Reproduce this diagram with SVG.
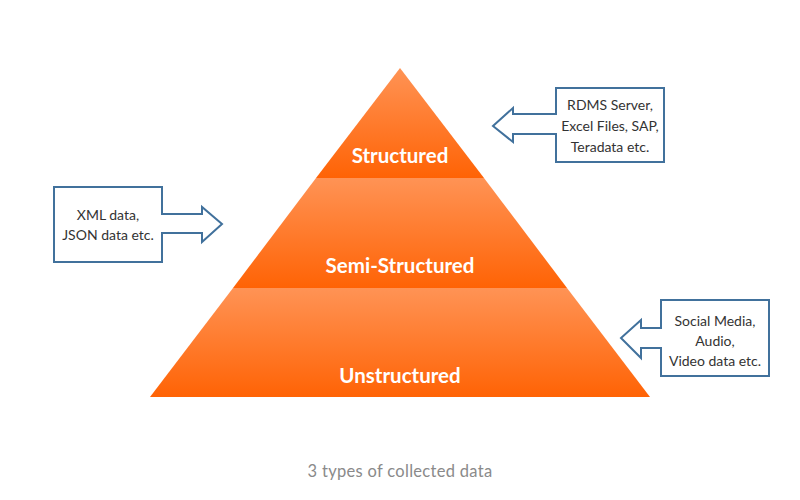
<svg xmlns="http://www.w3.org/2000/svg" width="800" height="500" viewBox="0 0 800 500">
<defs>
<linearGradient id="tier" x1="0" y1="0" x2="0" y2="1">
<stop offset="0" stop-color="#FF9355"/>
<stop offset="1" stop-color="#FF6305"/>
</linearGradient>
<style>
.tier{fill:url(#tier)}
.lbl{font-family:Lato,"Noto Sans",sans-serif;font-weight:bold;font-size:20.5px;fill:#fff;text-anchor:middle}
.call{fill:#fff;stroke:#41719C;stroke-width:2;stroke-linejoin:miter}
.ct{font-family:Lato,"Noto Sans",sans-serif;font-size:14px;fill:#333;text-anchor:middle}
.cap{font-family:Lato,"Noto Sans",sans-serif;font-size:16.5px;letter-spacing:0.3px;fill:#8a8a8a;text-anchor:middle}
</style>
</defs>
<rect width="800" height="500" fill="#fff"/>
<g id="structured">
<polygon class="tier" points="400,68 484,178 316,178"/>
<text class="lbl" x="400" y="163">Structured</text>
</g>
<g id="semi-structured">
<polygon class="tier" points="316,178 484,178 567,288 233,288"/>
<text class="lbl" x="400" y="273">Semi-Structured</text>
</g>
<g id="unstructured">
<polygon class="tier" points="233,288 567,288 650,397 150,397"/>
<text class="lbl" x="400" y="383">Unstructured</text>
</g>
<g id="connectors">
<g id="callout-structured">
<path class="call" d="M556,88 H664 V162 H556 V134 H513 V142 L493,126 L513,108 V114 H556 Z"/>
<text class="ct" x="610" y="110">RDMS Server,</text>
<text class="ct" x="610" y="131">Excel Files, SAP,</text>
<text class="ct" x="610" y="152">Teradata etc.</text>
</g>
<g id="callout-semi">
<path class="call" d="M54,187 H162 V214 H202 V207 L222,224 L202,242 V233 H162 V262 H54 Z"/>
<text class="ct" x="108" y="220">XML data,</text>
<text class="ct" x="108" y="240">JSON data etc.</text>
</g>
<g id="callout-unstructured">
<path class="call" d="M661,300 H769 V376 H661 V348 H641 V358 L621,338 L641,320 V328 H661 Z"/>
<text class="ct" x="715" y="326">Social Media,</text>
<text class="ct" x="715" y="346">Audio,</text>
<text class="ct" x="715" y="366">Video data etc.</text>
</g>
</g>
<text class="cap" x="400" y="477">3 types of collected data</text>
</svg>
